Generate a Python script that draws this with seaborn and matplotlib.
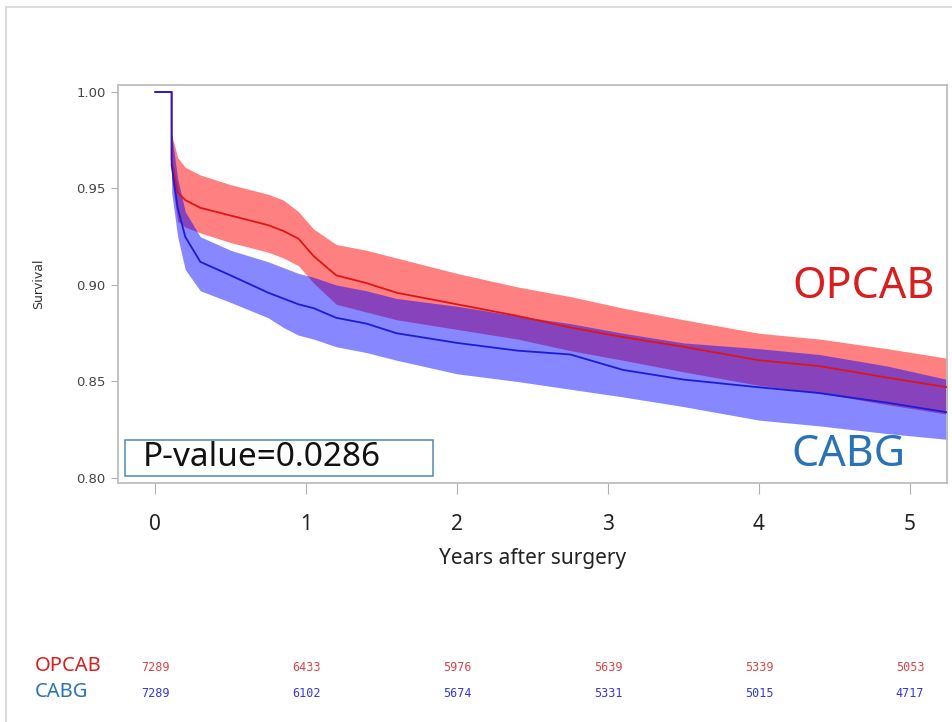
import numpy as np
import pandas as pd
import seaborn as sns
import matplotlib.pyplot as plt
from matplotlib.patches import Rectangle
from matplotlib.lines import Line2D
from matplotlib.transforms import blended_transform_factory

# Kaplan-Meier: OPCAB vs CABG
years = [0.0, 0.11, 0.11, 0.15, 0.2, 0.3, 0.5, 0.75, 0.85, 0.95, 1.05, 1.2, 1.4, 1.6,
         2.0, 2.4, 2.75, 3.1, 3.5, 4.0, 4.4, 4.85, 5.25]

opcab_surv = [1.0, 1.0, 0.965, 0.948, 0.944, 0.940, 0.936, 0.931, 0.928, 0.924, 0.915, 0.905,
              0.901, 0.896, 0.890, 0.884, 0.878, 0.873, 0.868, 0.861, 0.858, 0.852, 0.847]
opcab_hi = [1.0, 1.0, 0.978, 0.966, 0.961, 0.957, 0.952, 0.947, 0.944, 0.938, 0.929, 0.921,
            0.918, 0.914, 0.906, 0.899, 0.894, 0.888, 0.882, 0.875, 0.872, 0.867, 0.862]
opcab_lo = [1.0, 1.0, 0.955, 0.933, 0.930, 0.927, 0.922, 0.917, 0.914, 0.910, 0.901, 0.890,
            0.886, 0.882, 0.877, 0.872, 0.866, 0.861, 0.855, 0.848, 0.844, 0.838, 0.833]

cabg_surv = [1.0, 1.0, 0.962, 0.940, 0.925, 0.912, 0.905, 0.896, 0.893, 0.890, 0.888, 0.883,
             0.880, 0.875, 0.870, 0.866, 0.864, 0.856, 0.851, 0.847, 0.844, 0.839, 0.834]
cabg_hi = [1.0, 1.0, 0.978, 0.955, 0.938, 0.925, 0.918, 0.912, 0.909, 0.906, 0.904, 0.900,
           0.897, 0.893, 0.889, 0.884, 0.880, 0.875, 0.870, 0.867, 0.864, 0.858, 0.851]
cabg_lo = [1.0, 1.0, 0.948, 0.925, 0.908, 0.897, 0.891, 0.883, 0.878, 0.874, 0.872, 0.868,
           0.865, 0.861, 0.854, 0.850, 0.846, 0.842, 0.837, 0.830, 0.827, 0.823, 0.820]

# liczba pacjentów w ryzyku
risk_years = [0, 1, 2, 3, 4, 5]
opcab_risk = [7289, 6433, 5976, 5639, 5339, 5053]
cabg_risk = [7289, 6102, 5674, 5331, 5015, 4717]

sns.set_style("white")
plt.rcParams['font.family'] = ['Noto Sans', 'DejaVu Sans']

df = pd.concat([
    pd.DataFrame({"years": years, "surv": opcab_surv, "group": "OPCAB"}),
    pd.DataFrame({"years": years, "surv": cabg_surv, "group": "CABG"}),
], ignore_index=True)

fig = plt.figure(figsize=(9.52, 7.22), dpi=100)
ax = fig.add_axes([0.124, 0.331, 0.8707, 0.5512])

# pasma ufności
ax.fill_between(years, opcab_lo, opcab_hi, color='#ff8080', lw=0, zorder=1)
ax.fill_between(years, cabg_lo, cabg_hi, color='#0000ff', alpha=0.47, lw=0, zorder=2)

sns.lineplot(data=df, x="years", y="surv", hue="group", estimator=None, sort=False,
             palette={"OPCAB": '#dd1515', "CABG": '#1c1cd6'}, hue_order=["OPCAB", "CABG"],
             linewidth=1.3, legend=False, ax=ax, zorder=3)

ax.set_xlim(-0.245, 5.245)
ax.set_ylim(0.7974, 1.0036)
ax.set_xticks(risk_years)
ax.set_yticks([0.80, 0.85, 0.90, 0.95, 1.00])
ax.set_yticklabels([f"{v:.2f}" for v in [0.80, 0.85, 0.90, 0.95, 1.00]],
                   fontsize=9.5, color='#444444', family=['DejaVu Sans'])
ax.tick_params(axis='x', labelsize=15, colors='#222222', length=8, color='#b0b0b0', pad=14)
ax.tick_params(axis='y', length=5, color='#b0b0b0', pad=4)
ax.tick_params(bottom=True, left=True)
for s in ax.spines.values():
    s.set_color('#bdbdbd')
    s.set_linewidth(1.3)

ax.set_xlabel("Years after surgery", fontsize=15, color='#222222', labelpad=10)
ax.set_ylabel("Survival", fontsize=9, color='#333333', labelpad=22, family=['DejaVu Sans'])

# etykiety grup
ax.text(4.69, 0.899, "OPCAB", color='#d81e1e', fontsize=31, ha='center', va='center')
ax.text(4.59, 0.812, "CABG", color='#2a72b5', fontsize=31, ha='center', va='center')

# ramka z p-value
ax.add_patch(Rectangle((0.0084, 0.0176), 0.3715, 0.0905, transform=ax.transAxes,
                       fill=False, edgecolor='#4f8ab5', lw=1.1, zorder=5))
ax.text(0.030, 0.063, "P-value=0.0286", transform=ax.transAxes, fontsize=24,
        ha='left', va='center', color='#111111', zorder=6)

# tabela ryzyka
tr = blended_transform_factory(ax.transData, fig.transFigure)
for x, a, b in zip(risk_years, opcab_risk, cabg_risk):
    ax.text(x, 0.076, str(a), transform=tr, ha='center', va='center', fontsize=8.5,
            color='#e04545', family=['DejaVu Sans Mono', 'DejaVu Sans'])
    ax.text(x, 0.040, str(b), transform=tr, ha='center', va='center', fontsize=8.5,
            color='#3535dd', family=['DejaVu Sans Mono', 'DejaVu Sans'])
fig.text(0.036, 0.077, "OPCAB", fontsize=14.5, color='#d81e1e', ha='left', va='center',
         weight='semibold')
fig.text(0.036, 0.041, "CABG", fontsize=14.5, color='#2a72b5', ha='left', va='center',
         weight='semibold')

# zewnętrzna ramka obrazka
fig.add_artist(Line2D([0.0065, 0.0065], [0, 0.990], color='#d5d5d5', lw=1.2))
fig.add_artist(Line2D([0.0065, 1.0], [0.990, 0.990], color='#d5d5d5', lw=1.2))

plt.savefig("out.png", dpi=100)
